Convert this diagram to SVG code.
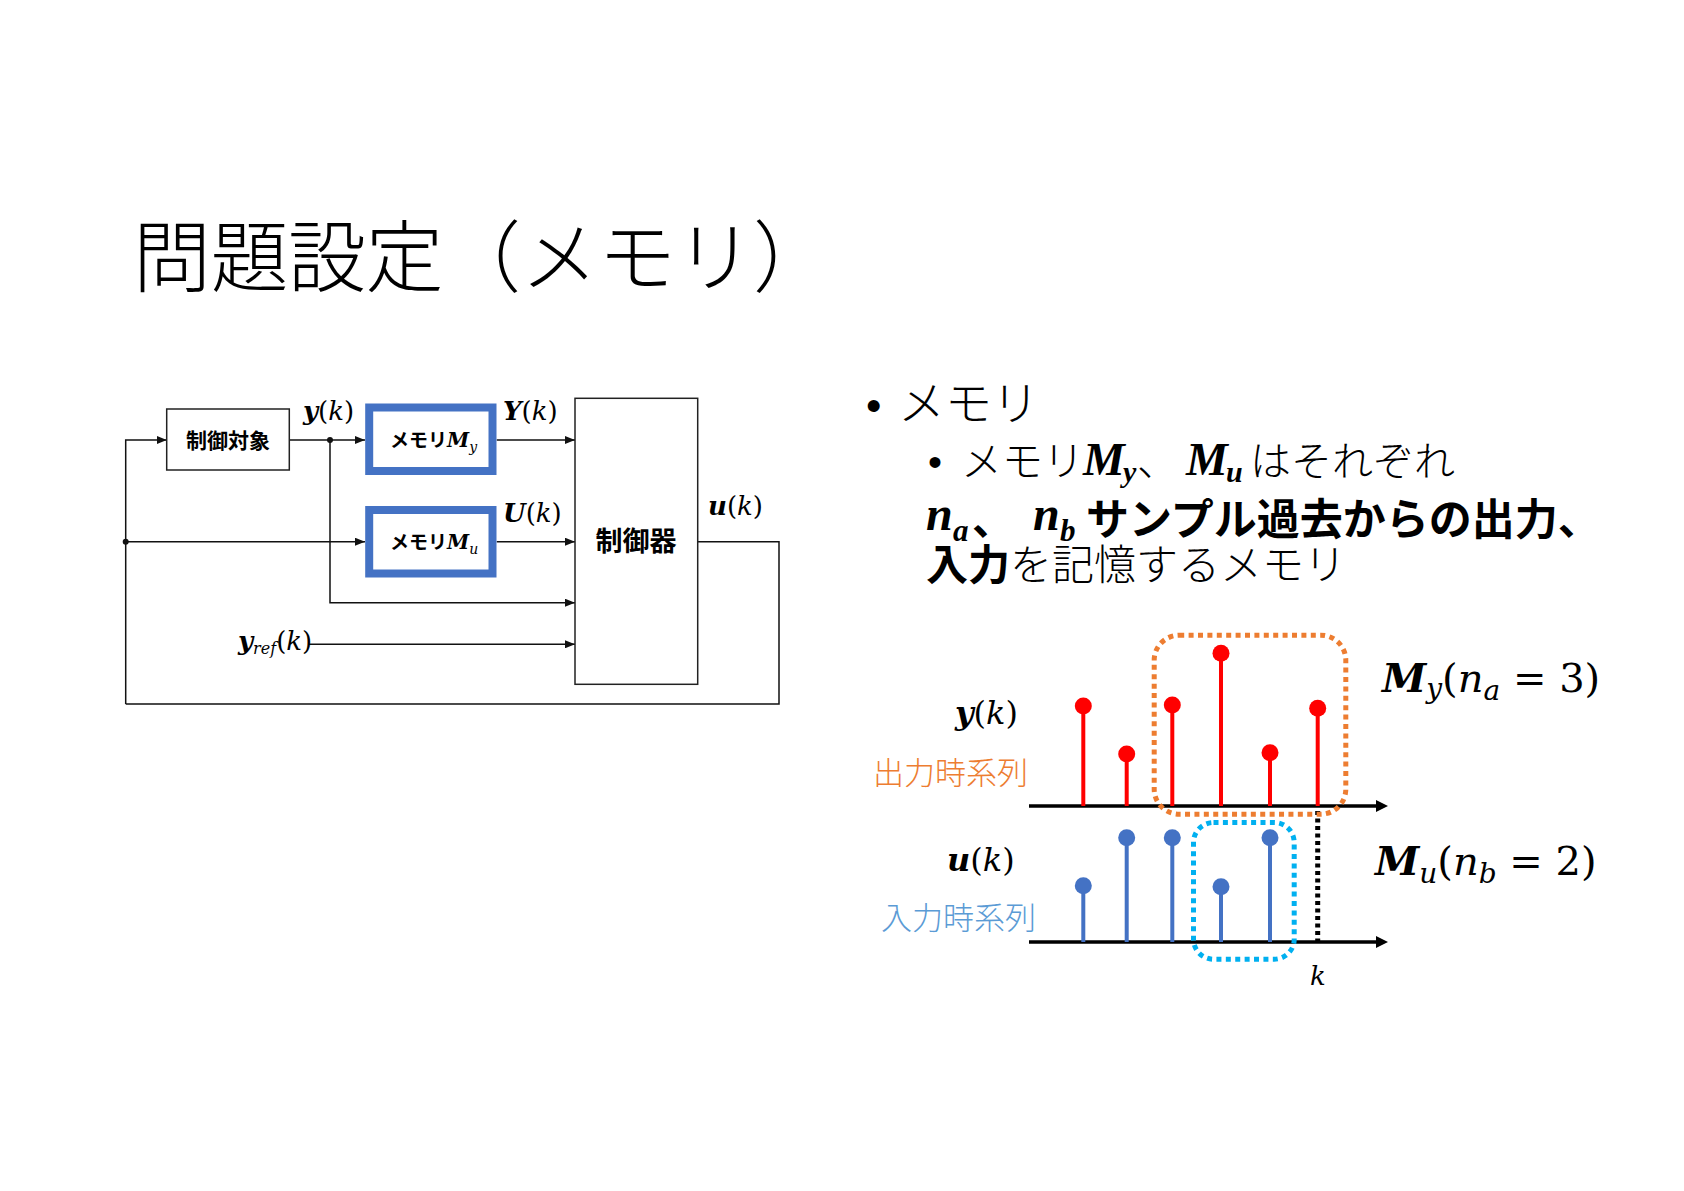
<svg xmlns="http://www.w3.org/2000/svg" width="1684" height="1191" viewBox="0 0 1684 1191">
<defs>
<style>
.jp{font-family:"Noto Sans CJK JP","Noto Sans CJK SC",sans-serif;}
.lt{font-weight:300;}
.bd{font-weight:700;}
.m{font-family:"DejaVu Serif",serif;}
.t{font-family:"Liberation Serif",serif;}
.bi{font-weight:700;font-style:italic;}
.it{font-style:italic;}
.ln{stroke:#111;stroke-width:1.5;fill:none;}
.box{fill:#fff;stroke:#222;stroke-width:1.5;}
.mem{fill:#fff;stroke:#4472C4;stroke-width:8;}
.rs{stroke:#FF0000;stroke-width:4;}
.bs{stroke:#4472C4;stroke-width:4;}
.ax{stroke:#000;stroke-width:3.5;}
</style>
<marker id="ar" viewBox="0 0 10 8" markerUnits="userSpaceOnUse" markerWidth="10" markerHeight="8" refX="10" refY="4" orient="auto"><path d="M0,0 L10,4 L0,8 z" fill="#111"/></marker>
<marker id="ar2" viewBox="0 0 12 12" markerUnits="userSpaceOnUse" markerWidth="12" markerHeight="12" refX="8" refY="6" orient="auto"><path d="M0,0 L12,6 L0,12 z" fill="#000"/></marker>
</defs>
<rect width="1684" height="1191" fill="#fff"/>

<text class="jp lt" x="133" y="286" font-size="78" letter-spacing="-0.5">問題設定（メモリ）</text>

<g id="connectors">
<polyline class="ln" points="125.7,704 125.7,440 166.7,440" marker-end="url(#ar)"/>
<line class="ln" x1="289.3" y1="440" x2="365" y2="440" marker-end="url(#ar)"/>
<polyline class="ln" points="330,440 330,602.7 575,602.7" marker-end="url(#ar)"/>
<line class="ln" x1="125.7" y1="541.7" x2="365" y2="541.7" marker-end="url(#ar)"/>
<line class="ln" x1="496.7" y1="440" x2="575" y2="440" marker-end="url(#ar)"/>
<line class="ln" x1="496.7" y1="541.7" x2="575" y2="541.7" marker-end="url(#ar)"/>
<line class="ln" x1="309" y1="644.3" x2="575" y2="644.3" marker-end="url(#ar)"/>
<polyline class="ln" points="697.7,541.7 779,541.7 779,704 125.7,704" stroke-width="2"/>
<circle cx="330" cy="440" r="3" fill="#111"/>
<circle cx="125.7" cy="541.7" r="3" fill="#111"/>
</g>

<g id="plant">
<rect class="box" x="166.7" y="409" width="122.6" height="61"/>
<text class="jp bd" x="228" y="447.5" font-size="21" text-anchor="middle">制御対象</text>
</g>

<g id="memY">
<rect class="mem" x="369.2" y="407.5" width="123.3" height="63.5"/>
<text x="390" y="447"><tspan class="jp bd" font-size="19">メモリ</tspan><tspan class="m bi" font-size="20">M</tspan><tspan class="m it" font-size="14" dy="5">y</tspan></text>
</g>

<g id="memU">
<rect class="mem" x="369.2" y="510" width="123.3" height="63.5"/>
<text x="390" y="549"><tspan class="jp bd" font-size="19">メモリ</tspan><tspan class="m bi" font-size="20">M</tspan><tspan class="m it" font-size="14" dy="5">u</tspan></text>
</g>

<g id="controller">
<rect class="box" x="575" y="398.3" width="122.7" height="286"/>
<text class="jp bd" x="636" y="551" font-size="27" text-anchor="middle">制御器</text>
</g>

<g id="labels" class="m" font-size="26">
<text x="303" y="420"><tspan class="bi">y</tspan>(<tspan class="it">k</tspan>)</text>
<text x="503" y="420"><tspan class="bi">Y</tspan>(<tspan class="it">k</tspan>)</text>
<text x="503" y="522"><tspan class="bi">U</tspan>(<tspan class="it">k</tspan>)</text>
<text x="708" y="515"><tspan class="bi">u</tspan>(<tspan class="it">k</tspan>)</text>
<text x="238" y="650"><tspan class="bi">y</tspan><tspan class="it" font-size="16" dy="4">ref</tspan><tspan dy="-4">(</tspan><tspan class="it">k</tspan>)</text>
</g>

<g id="bullets">
<text x="866" y="421" font-family="Liberation Sans,sans-serif" font-size="44">•</text>
<text class="jp lt" x="898" y="420" font-size="47">メモリ</text>
<text x="928" y="476" font-family="Liberation Sans,sans-serif" font-size="40">•</text>
<text class="jp lt" x="961" y="476" font-size="41">メモリ</text>
<text class="t bi" x="1083" y="475" font-size="47">M</text>
<text class="t bi" x="1123" y="482" font-size="30">y</text>
<text class="jp lt" x="1137" y="476" font-size="41">、</text>
<text class="t bi" x="1186" y="475" font-size="47">M</text>
<text class="t bi" x="1226" y="482" font-size="30">u</text>
<text class="jp lt" x="1250" y="476" font-size="41">はそれぞれ</text>
<text class="t bi" x="926" y="530" font-size="48">n</text>
<text class="t bi" x="953" y="541" font-size="31">a</text>
<text class="jp bd" x="972" y="535" font-size="42">、</text>
<text class="t bi" x="1033" y="530" font-size="48">n</text>
<text class="t bi" x="1060" y="541" font-size="31">b</text>
<text class="jp bd" x="1086" y="535" font-size="43">サンプル過去からの出力、</text>
<text x="926" y="580" font-size="42"><tspan class="jp bd">入力</tspan><tspan class="jp lt">を記憶するメモリ</tspan></text>
</g>

<g id="chart">
<line class="ax" x1="1029" y1="806" x2="1384" y2="806" marker-end="url(#ar2)"/>
<line class="ax" x1="1029" y1="942" x2="1384" y2="942" marker-end="url(#ar2)"/>
<g fill="#FF0000">
<line class="rs" x1="1083.3" y1="806" x2="1083.3" y2="706"/><circle cx="1083.3" cy="706" r="8.5"/>
<line class="rs" x1="1126.7" y1="806" x2="1126.7" y2="754"/><circle cx="1126.7" cy="754" r="8.5"/>
<line class="rs" x1="1172.3" y1="806" x2="1172.3" y2="705"/><circle cx="1172.3" cy="705" r="8.5"/>
<line class="rs" x1="1221" y1="806" x2="1221" y2="653.3"/><circle cx="1221" cy="653.3" r="8.5"/>
<line class="rs" x1="1270" y1="806" x2="1270" y2="752.7"/><circle cx="1270" cy="752.7" r="8.5"/>
<line class="rs" x1="1317.7" y1="806" x2="1317.7" y2="708.3"/><circle cx="1317.7" cy="708.3" r="8.5"/>
</g>
<g fill="#4472C4">
<line class="bs" x1="1083.3" y1="942" x2="1083.3" y2="885.7"/><circle cx="1083.3" cy="885.7" r="8.5"/>
<line class="bs" x1="1126.7" y1="942" x2="1126.7" y2="837.7"/><circle cx="1126.7" cy="837.7" r="8.5"/>
<line class="bs" x1="1172.3" y1="942" x2="1172.3" y2="837.7"/><circle cx="1172.3" cy="837.7" r="8.5"/>
<line class="bs" x1="1221" y1="942" x2="1221" y2="886.7"/><circle cx="1221" cy="886.7" r="8.5"/>
<line class="bs" x1="1270" y1="942" x2="1270" y2="837.7"/><circle cx="1270" cy="837.7" r="8.5"/>
</g>
<line x1="1317.7" y1="811" x2="1317.7" y2="941" stroke="#000" stroke-width="5" stroke-dasharray="4 3.5"/>
<rect x="1154.2" y="635.2" width="191.6" height="179" rx="25" fill="none" stroke="#ED7D31" stroke-width="5" stroke-dasharray="5 4.4"/>
<rect x="1193.5" y="822.5" width="100.7" height="136.7" rx="20" fill="none" stroke="#00B0F0" stroke-width="5" stroke-dasharray="5 4.4"/>
<text class="m" x="955" y="724" font-size="32"><tspan class="bi">y</tspan>(<tspan class="it">k</tspan>)</text>
<text class="m" x="947" y="871" font-size="32"><tspan class="bi">u</tspan>(<tspan class="it">k</tspan>)</text>
<text class="jp lt" x="873" y="784" font-size="31" fill="#ED7D31">出力時系列</text>
<text class="jp lt" x="881" y="929" font-size="31" fill="#5B9BD5">入力時系列</text>
<text class="m it" x="1318" y="985" font-size="26" text-anchor="middle">k</text>
<text class="m" x="1382" y="692" font-size="40"><tspan class="bi">M</tspan><tspan class="it" font-size="28" dy="6">y</tspan><tspan dy="-6">(</tspan><tspan class="it">n</tspan><tspan class="it" font-size="28" dy="8">a</tspan><tspan dy="-8"> = 3)</tspan></text>
<text class="m" x="1375" y="875" font-size="40"><tspan class="bi">M</tspan><tspan class="it" font-size="28" dy="8">u</tspan><tspan dy="-8">(</tspan><tspan class="it">n</tspan><tspan class="it" font-size="28" dy="8">b</tspan><tspan dy="-8"> = 2)</tspan></text>
</g>
</svg>
